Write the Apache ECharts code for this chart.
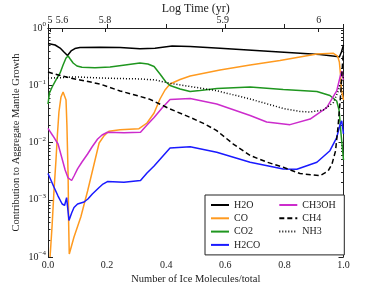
<!DOCTYPE html>
<html><head><meta charset="utf-8">
<script src="https://cdn.jsdelivr.net/npm/echarts@6/dist/echarts.min.js"></script>
<style>html,body{margin:0;padding:0;background:#fff}#c{width:382px;height:287px}</style>
</head><body><div id="c"></div>
<script>
// ---- data (x = number of ice molecules / total, y = contribution) ----
const h2oX = [0, .024, .041, .054, .066, .078, .091, .108, .176, .244, .311, .362, .420, .481, .582, .717, .853, .920, .978, .986, .993, 1.0];
const h2oY = [.536, .505, .447, .381, .331, .397, .438, .456, .460, .456, .433, .442, .485, .475, .445, .401, .361, .343, .318, .311, .381, .505];

const coX = [.007, .014, .020, .027, .032, .037, .044, .051, .056, .061, .064, .068, .070, .072, .088, .111, .134, .156, .173, .190, .206, .244, .308, .335, .359, .379, .396, .413, .447, .481, .582, .684, .785, .910, .966, .980, .986, .990, .993, 1.0];
const coY = [.0001, .000362, .00137, .00494, .0141, .0341, .0624, .0762, .0718, .0552, .0202, .00271, .000362, .000113, .000224, .0005, .00142, .00421, .0098, .0132, .0157, .0167, .0174, .0219, .0327, .0575, .0826, .105, .126, .145, .185, .226, .270, .352, .361, .324, .255, .151, .0826, .0552];

const co2X = [0, .005, .014, .027, .041, .051, .061, .068, .074, .085, .098, .115, .159, .210, .261, .311, .338, .359, .379, .399, .413, .447, .481, .514, .572, .684, .796, .910, .954, .977, .985, .992, 1.0];
const co2Y = [.047, .0733, .0932, .124, .164, .226, .299, .324, .293, .245, .217, .206, .202, .208, .226, .245, .235, .213, .157, .114, .0990, .0860, .0778, .0810, .0878, .0932, .0843, .0778, .0662, .0531, .0370, .0135, .00494];

const h2coX = [0, .020, .034, .048, .056, .063, .071, .080, .088, .100, .122, .135, .150, .173, .186, .201, .257, .313, .335, .359, .386, .413, .481, .571, .684, .796, .842, .910, .954, .977, .988, .994, 1.0];
const h2coY = [.00287, .00167, .00116, .000843, .000794, .00109, .000434, .000587, .000733, .000843, .000914, .00103, .00126, .00164, .00188, .00208, .00202, .00217, .00293, .00389, .00558, .00802, .00845, .00675, .00451, .00345, .00342, .00451, .00719, .0122, .0202, .0240, .0141];

const ch3ohX = [0, .017, .034, .047, .058, .068, .080, .088, .100, .115, .134, .149, .168, .183, .201, .257, .313, .335, .359, .386, .413, .481, .571, .684, .740, .819, .887, .943, .977, .990, .994, 1.0];
const ch3ohY = [.0176, .0130, .00941, .00536, .00331, .00240, .00217, .00260, .00345, .00456, .00630, .00834, .0115, .0135, .0151, .0148, .0151, .0202, .0273, .0401, .0564, .0587, .0470, .0296, .0228, .0205, .0257, .0408, .0794, .151, .177, .124];

const ch4X = [0, .041, .074, .108, .176, .244, .294, .345, .413, .481, .531, .571, .627, .684, .740, .796, .853, .920, .948, .961, .973, .982, .991, .997, 1.0];
const ch4Y = [.170, .148, .134, .124, .105, .0794, .0676, .0568, .0385, .0275, .0210, .0161, .0094, .00593, .00456, .00369, .00287, .00263, .00318, .00421, .00711, .0202, .0762, .255, .381];

const nh3X = [0, .041, .074, .108, .176, .244, .311, .362, .413, .481, .571, .684, .796, .853, .887, .932, .966, .982, .992, 1.0];
const nh3Y = [.134, .135, .139, .139, .134, .131, .129, .124, .108, .0951, .0803, .0575, .0393, .0348, .0341, .0370, .0500, .0794, .114, .139];

const seriesNames = ['H2O', 'CO', 'CO2', 'H2CO', 'CH3OH', 'CH4', 'NH3'];
const topTickPos = [0.007, 0.047, 0.193, 0.591, 0.916];
const topTickLabels = ['5', '5.6', '5.8', '5.9', '6'];

// ---- build ----
const zip = (xs, ys) => xs.map((x, i) => [x, ys[i]]);
const minorLog = [];
for (let e = -4; e < 0; e++) for (let k = 2; k <= 9; k++) minorLog.push(Math.log10(k) + e);

const font = 'Liberation Serif';
const txt = '#222';
const axisLine = { show: true, lineStyle: { color: '#222', width: 1 } };

function mk(name, xs, ys, color, type) {
  return {
    name, type: 'line', data: zip(xs, ys), symbol: 'none', showSymbol: false, clip: true,
    lineStyle: { color, width: 1.5, type: type || 'solid' },
    itemStyle: { color }, z: 3
  };
}

const chart = echarts.init(document.getElementById('c'), null, { renderer: 'canvas' });
chart.setOption({
  animation: false,
  textStyle: { fontFamily: font, color: txt },
  grid: { left: 48, right: 38.5, top: 28, bottom: 30, containLabel: false, outerBoundsMode: 'none' },
  xAxis: [
    {
      type: 'value', position: 'bottom', min: 0, max: 1, interval: 0.2,
      name: 'Number of Ice Molecules/total', nameLocation: 'middle', nameGap: 16.5, nameMoveOverlap: false,
      nameTextStyle: { fontFamily: font, fontSize: 10.5, color: txt },
      axisLine, splitLine: { show: false },
      axisTick: { inside: true, length: 4, lineStyle: { color: '#222' } },
      axisLabel: { fontFamily: font, fontSize: 10, color: txt, margin: 3, formatter: v => v.toFixed(1) }
    },
    {
      type: 'value', position: 'top', min: 0, max: 1,
      name: 'Log Time (yr)', nameLocation: 'middle', nameGap: 13, nameMoveOverlap: false,
      nameTextStyle: { fontFamily: font, fontSize: 12, color: txt },
      axisLine, splitLine: { show: false },
      axisTick: { inside: true, length: 4, customValues: topTickPos, lineStyle: { color: '#222' } },
      axisLabel: {
        fontFamily: font, fontSize: 10, color: txt, margin: 3, customValues: topTickPos,
        formatter: v => { const i = topTickPos.findIndex(p => Math.abs(p - v) < 1e-6); return i >= 0 ? topTickLabels[i] : ''; }
      }
    }
  ],
  yAxis: [
    {
      type: 'log', logBase: 10, min: 1e-4, max: 1, position: 'left',
      name: 'Contribution to Aggregate Mantle Growth', nameLocation: 'middle', nameGap: 26, nameMoveOverlap: false,
      nameTextStyle: { fontFamily: font, fontSize: 10.5, color: txt },
      axisLine, splitLine: { show: false },
      axisTick: { inside: true, length: 5, lineStyle: { color: '#222' } },
      axisLabel: {
        margin: 2, color: txt,
        formatter: v => '{b|10}{s|' + String(Math.round(Math.log10(v))).replace('-', '\u2212') + '}',
        rich: {
          b: { fontFamily: font, fontSize: 10, lineHeight: 14, color: txt },
          s: { fontFamily: font, fontSize: 7, lineHeight: 7, verticalAlign: 'top', color: txt }
        }
      }
    },
    {
      type: 'value', min: -4, max: 0, position: 'left',
      axisLine: { show: false }, splitLine: { show: false }, axisLabel: { show: false },
      axisTick: { inside: true, length: 2.5, customValues: minorLog, lineStyle: { color: '#222' } }
    },
    {
      type: 'log', logBase: 10, min: 1e-4, max: 1, position: 'right',
      axisLine, splitLine: { show: false }, axisLabel: { show: false },
      axisTick: { inside: true, length: 5, lineStyle: { color: '#222' } }
    },
    {
      type: 'value', min: -4, max: 0, position: 'right',
      axisLine: { show: false }, splitLine: { show: false }, axisLabel: { show: false },
      axisTick: { inside: true, length: 2.5, customValues: minorLog, lineStyle: { color: '#222' } }
    }
  ],
  legend: {
    orient: 'vertical', left: 205, top: 195, height: 51,
    itemWidth: 18, itemHeight: 10, itemGap: 3.3,
    padding: [5, 1, 5, 5],
    borderColor: '#222', borderWidth: 1, backgroundColor: '#fff',
    data: seriesNames,
    itemStyle: { opacity: 0 },
    textStyle: { fontFamily: font, fontSize: 10, color: txt, width: 41, lineHeight: 10 }
  },
  series: [
    mk(seriesNames[0], h2oX, h2oY, '#000000'),
    mk(seriesNames[1], coX, coY, '#ff9a1f'),
    mk(seriesNames[2], co2X, co2Y, '#1f961f'),
    mk(seriesNames[3], h2coX, h2coY, '#1a1aff'),
    mk(seriesNames[4], ch3ohX, ch3ohY, '#cc2ccc'),
    mk(seriesNames[5], ch4X, ch4Y, '#000000', [5, 3]),
    mk(seriesNames[6], nh3X, nh3Y, '#000000', [1, 2])
  ]
});
</script></body></html>
